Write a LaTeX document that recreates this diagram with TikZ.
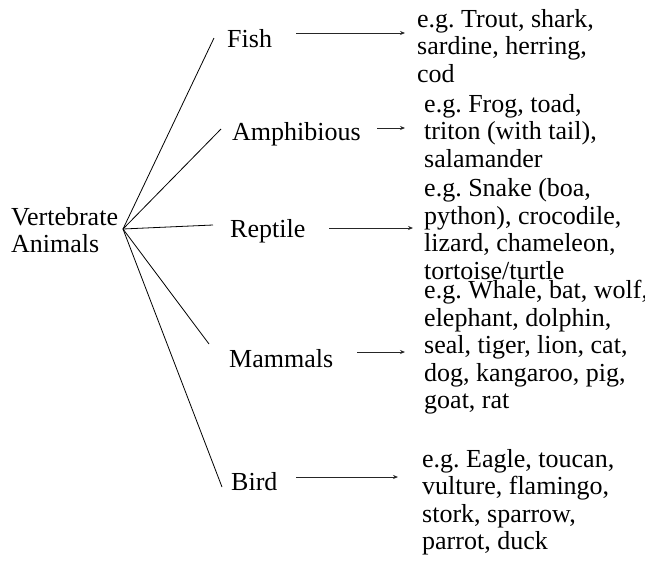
\documentclass[tikz,border=0pt]{standalone}
\usepackage{fontspec}
\setmainfont{Liberation Serif}
\usetikzlibrary{arrows.meta}
\tikzset{
  lbl/.style={anchor=west, inner sep=0pt, font=\fontsize{26}{27.5}\selectfont, align=left},
  branch/.style={line width=0.8pt, black},
  pointer/.style={line width=0.8pt, black!85, -{Stealth[length=5pt,width=4pt]}}
}
\begin{document}
\frenchspacing
\begin{tikzpicture}[x=1pt,y=-1pt]
\useasboundingbox (0,0) rectangle (645,565);
% root
\node[lbl] (root) at (11,230) {Vertebrate\\Animals};
\coordinate (hub) at (123,229);
% categories
\node[lbl] (fish) at (227,39) {Fish};
\node[lbl] (amph) at (232,134) {Amphibious};
\node[lbl] (rept) at (230,231) {Reptile};
\node[lbl] (mamm) at (229,359) {Mammals};
\node[lbl] (bird) at (231,482) {Bird};
% line ends
\coordinate (e1) at (214,38);
\coordinate (e2) at (221,129);
\coordinate (e3) at (213,225);
\coordinate (e4) at (209,344);
\coordinate (e5) at (222,487);
\draw[branch] (hub) -- (e1);
\draw[branch] (hub) -- (e2);
\draw[branch] (hub) -- (e3);
\draw[branch] (hub) -- (e4);
\draw[branch] (hub) -- (e5);
% examples
\node[lbl] (ex1) at (417,46) {e.g. Trout, shark,\\sardine, herring,\\cod};
\node[lbl] (ex2) at (424,131) {e.g. Frog, toad,\\triton (with tail),\\salamander};
\node[lbl] (ex3) at (424,229) {e.g. Snake (boa,\\python), crocodile,\\lizard, chameleon,\\tortoise/turtle};
\node[lbl] (ex4) at (424,347.5) {e.g. Whale, bat, wolf,\\elephant, dolphin,\\seal, tiger, lion, cat,\\dog, kangaroo, pig,\\goat, rat};
\node[lbl] (ex5) at (422,502) {e.g. Eagle, toucan,\\vulture, flamingo,\\stork, sparrow,\\parrot, duck};
% arrows
\coordinate (a1s) at (296,33);  \coordinate (a1e) at (405,33);
\coordinate (a2s) at (377,128); \coordinate (a2e) at (405,128);
\coordinate (a3s) at (329,228); \coordinate (a3e) at (413,228);
\coordinate (a4s) at (357,352); \coordinate (a4e) at (405,352);
\coordinate (a5s) at (296,477); \coordinate (a5e) at (398,477);
\draw[pointer] (a1s) -- (a1e);
\draw[pointer] (a2s) -- (a2e);
\draw[pointer] (a3s) -- (a3e);
\draw[pointer] (a4s) -- (a4e);
\draw[pointer] (a5s) -- (a5e);
\end{tikzpicture}
\end{document}
